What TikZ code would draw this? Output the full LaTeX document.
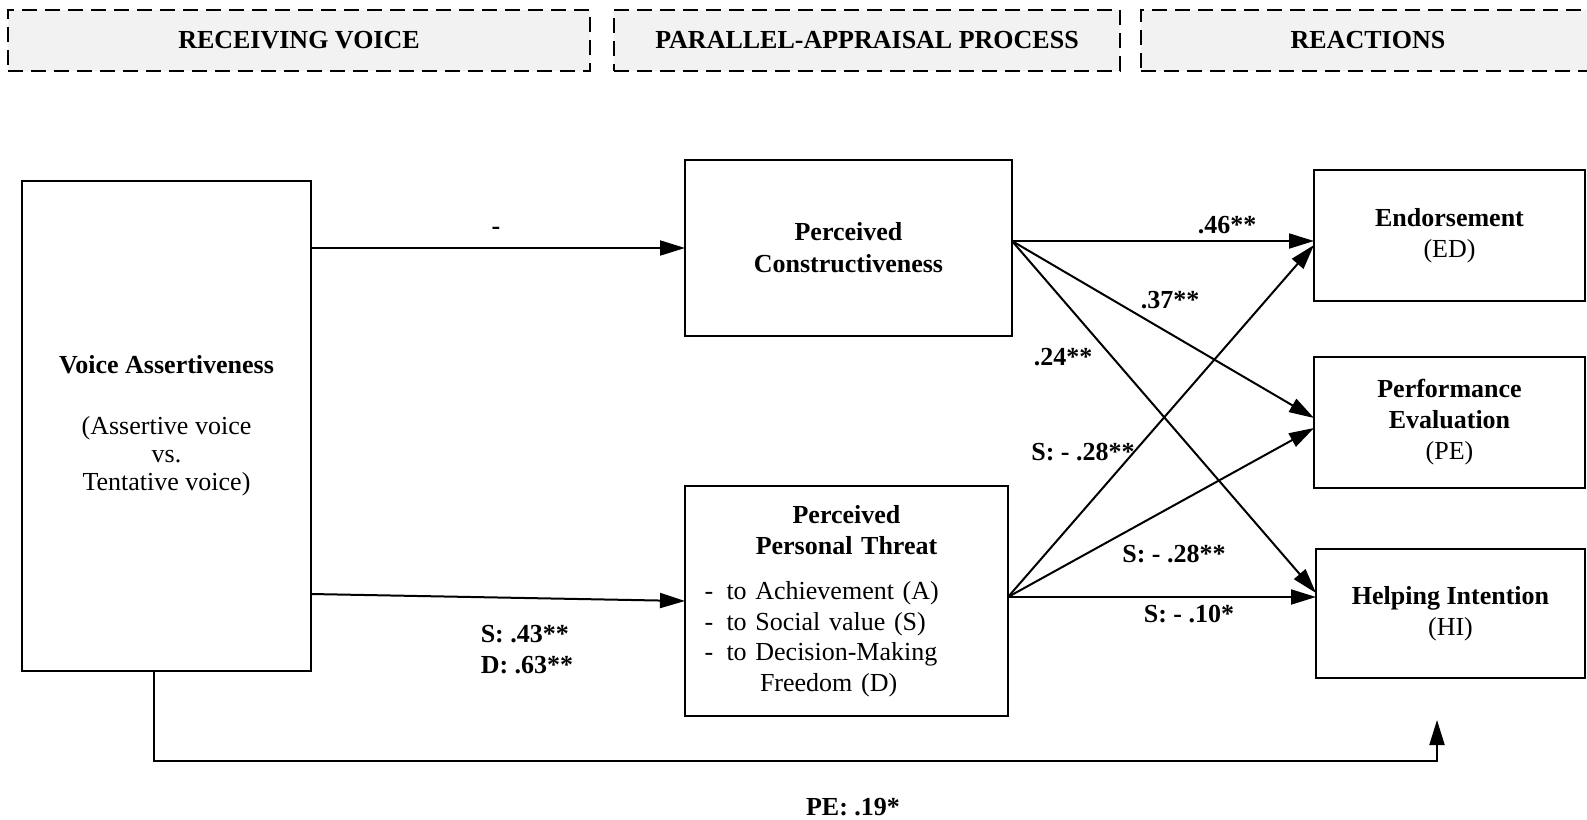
\documentclass[tikz,border=0pt]{standalone}
\usepackage{fontspec}
\setmainfont{Liberation Serif}
\usetikzlibrary{arrows.meta,calc}
\definecolor{headergray}{HTML}{F2F2F2}
\begin{document}
\begin{tikzpicture}[x=1pt,y=-1pt,
  font=\fontsize{26}{31}\selectfont,
  header/.style={draw=black, line width=2.2pt, dash pattern=on 15pt off 8pt,
    fill=headergray, inner sep=0pt, outer sep=0pt, minimum height=61pt,
    font=\fontsize{26}{31}\selectfont\bfseries},
  box/.style={draw=black, line width=2.6pt, inner sep=0pt, outer sep=0pt, align=center},
  conn/.style={line width=2pt, -{Triangle[length=25pt,width=15pt]}},
  lbl/.style={font=\fontsize{26}{31}\selectfont\bfseries, inner sep=0pt}
]
\path[use as bounding box, clip] (0,0) rectangle (1587,819);

% stage headers
\node[header, minimum width=582pt] (H1) at (299,40.5) {RECEIVING VOICE};
\node[header, minimum width=506pt] (H2) at (867,40.5) {PARALLEL-APPRAISAL PROCESS};
\node[header, minimum width=454pt] (H3) at (1368,40.5) {REACTIONS};

% variables
\node[box, minimum width=289pt, minimum height=490pt,
  font=\fontsize{26}{28}\selectfont] (VA) at (166.5,426)
  {\textbf{Voice Assertiveness}\\[33pt](Assertive voice\\vs.\\Tentative voice)};
\node[box, minimum width=327pt, minimum height=176pt, font=\fontsize{26}{32}\selectfont\bfseries]
  (PC) at (848.5,248) {Perceived\\Constructiveness};
\node[box, minimum width=323pt, minimum height=230pt, text width=290pt, align=left,
  font=\fontsize{26}{30.5}\selectfont] (PPT) at (846.5,601)
  {{\centering\bfseries Perceived\\Personal Threat\par}\vspace{15pt}%
   \hspace*{3pt}\makebox[22pt][l]{-}to Achievement (A)\\
   \hspace*{3pt}\makebox[22pt][l]{-}to Social value (S)\\
   \hspace*{3pt}\makebox[22pt][l]{-}to Decision-Making\\
   \hspace*{58.5pt}Freedom (D)};
\node[box, minimum width=271pt, minimum height=131pt] (ED) at (1449.5,235.5)
  {\textbf{Endorsement}\\(ED)};
\node[box, minimum width=271pt, minimum height=131pt] (PE) at (1449.5,422.5)
  {\textbf{Performance}\\\textbf{Evaluation}\\(PE)};
\node[box, minimum width=269pt, minimum height=129pt] (HI) at (1450.5,613.5)
  {\textbf{Helping Intention}\\(HI)};

% outgoing points of the mediators
\coordinate (pcOut) at ($(PC.east)+(0,-7)$);
\coordinate (ptOut) at ($(PPT.east)+(0,-4)$);

% paths
\draw[conn] (VA.east |- PC.west) -- (PC.west);
\draw[conn] ($(VA.south east)+(0,-77)$) -- (PPT.west);
\draw[conn] (pcOut) -- (ED.west |- pcOut);
\draw[conn] (pcOut) -- ($(PE.west)+(0,-4.5)$);
\draw[conn] (pcOut) -- ($(HI.west)+(0,-20.5)$);
\draw[conn] (ptOut) -- ($(ED.west)+(0,9.5)$);
\draw[conn] (ptOut) -- ($(PE.west)+(0,5.5)$);
\draw[conn] (ptOut) -- (HI.west |- ptOut);

% direct path below the model
\coordinate (hiIn) at (1437,720);
\draw[conn] ($(VA.south)+(-12.5,0)$) -- ++(0,90) -| (hiIn);

% coefficients
\node[lbl] (l1) at (496,231) {-};
\node[lbl, align=left] (l2) at (527,650) {S: .43**\\D: .63**};
\node[lbl] (l3) at (1227,225) {.46**};
\node[lbl] (l4) at (1170,300) {.37**};
\node[lbl] (l5) at (1063,357) {.24**};
\node[lbl] (l6) at (1083,452) {S: - .28**};
\node[lbl] (l7) at (1174,554) {S: - .28**};
\node[lbl] (l8) at (1189,614) {S: - .10*};
\node[lbl] (l9) at (853,807) {PE: .19*};
\end{tikzpicture}
\end{document}
